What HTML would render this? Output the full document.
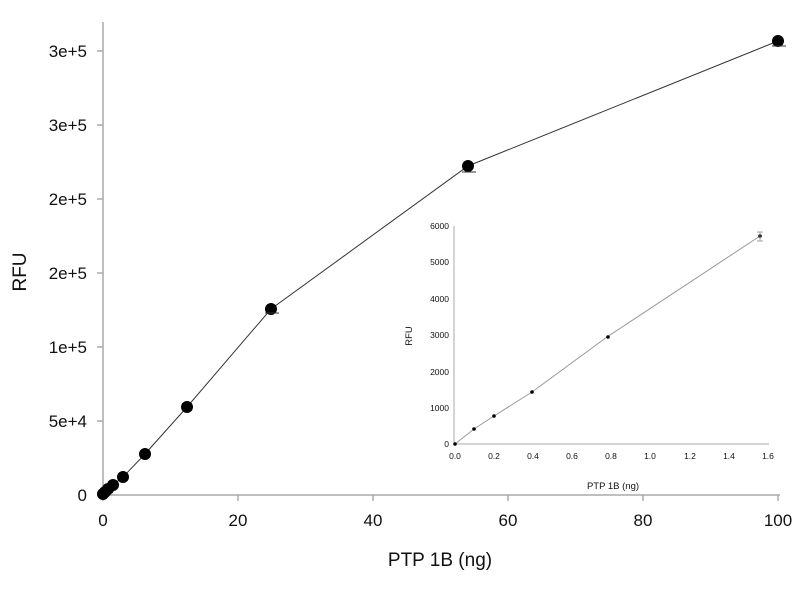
<!DOCTYPE html>
<html><head><style>body{margin:0;background:#fff}svg{display:block}</style></head><body>
<svg width="800" height="600" xmlns="http://www.w3.org/2000/svg" font-family="Liberation Sans, Arial, sans-serif">
<rect width="800" height="600" fill="#fff"/>
<g stroke="#aaa" stroke-width="1.5" fill="none">
<line x1="103" y1="22" x2="103" y2="495"/>
<line x1="103" y1="495" x2="780" y2="495"/>
<line x1="97" y1="51" x2="103" y2="51"/><line x1="97" y1="125" x2="103" y2="125"/>
<line x1="97" y1="199" x2="103" y2="199"/><line x1="97" y1="273" x2="103" y2="273"/>
<line x1="97" y1="347" x2="103" y2="347"/><line x1="97" y1="421" x2="103" y2="421"/>
<line x1="97" y1="495" x2="103" y2="495"/>
<line x1="103" y1="495" x2="103" y2="501"/><line x1="238" y1="495" x2="238" y2="501"/>
<line x1="373" y1="495" x2="373" y2="501"/><line x1="508" y1="495" x2="508" y2="501"/>
<line x1="643" y1="495" x2="643" y2="501"/><line x1="778" y1="495" x2="778" y2="501"/>
</g>
<g font-size="17" fill="#111" text-anchor="end">
<text x="87" y="57">3e+5</text><text x="87" y="131">3e+5</text><text x="87" y="205">2e+5</text>
<text x="87" y="279">2e+5</text><text x="87" y="353">1e+5</text><text x="87" y="427">5e+4</text><text x="87" y="501">0</text>
</g>
<g font-size="17" fill="#111" text-anchor="middle">
<text x="103" y="526">0</text><text x="238" y="526">20</text><text x="373" y="526">40</text>
<text x="508" y="526">60</text><text x="643" y="526">80</text><text x="778" y="526">100</text>
</g>
<text x="440" y="566" font-size="19" text-anchor="middle" fill="#111">PTP 1B (ng)</text>
<text transform="translate(26,272) rotate(-90)" font-size="19" text-anchor="middle" fill="#111">RFU</text>
<polyline fill="none" stroke="#333" stroke-width="1" points="103,494 104,493 106,491 108,489 113,485 123,477 145,454 187,407 271,309 468,166 778,41"/>
<g fill="#000">
<circle cx="103" cy="494" r="6"/><circle cx="105" cy="492" r="6"/><circle cx="108" cy="489" r="6"/>
<circle cx="113" cy="485" r="6"/><circle cx="123" cy="477" r="6"/><circle cx="145" cy="454" r="6"/>
<circle cx="187" cy="407" r="6"/><circle cx="271" cy="309" r="6"/><circle cx="468" cy="166" r="6"/>
<circle cx="778" cy="41" r="6"/>
</g>
<g stroke="#333" stroke-width="1"><line x1="462" y1="172" x2="476" y2="172"/><line x1="772" y1="46" x2="786" y2="46"/><line x1="265" y1="313" x2="279" y2="313"/></g>
<g stroke="#aaa" stroke-width="1" fill="none">
<line x1="454" y1="226" x2="454" y2="444"/>
<line x1="454" y1="444" x2="769" y2="444"/>
</g>
<g font-size="8.5" fill="#111" text-anchor="end">
<text x="449" y="229">6000</text><text x="449" y="265">5000</text><text x="449" y="302">4000</text>
<text x="449" y="338">3000</text><text x="449" y="375">2000</text><text x="449" y="411">1000</text><text x="449" y="447">0</text>
</g>
<g font-size="8.5" fill="#111" text-anchor="middle">
<text x="455" y="459">0.0</text><text x="494" y="459">0.2</text><text x="533" y="459">0.4</text>
<text x="572" y="459">0.6</text><text x="611" y="459">0.8</text><text x="650" y="459">1.0</text>
<text x="690" y="459">1.2</text><text x="729" y="459">1.4</text><text x="768" y="459">1.6</text>
</g>
<text x="613" y="489" font-size="9.5" text-anchor="middle" fill="#111">PTP 1B (ng)</text>
<text transform="translate(412,336) rotate(-90)" font-size="9.5" text-anchor="middle" fill="#111">RFU</text>
<polyline fill="none" stroke="#999" stroke-width="1" points="455,444 474,429 494,416 532,392 607,337 760,236"/>
<g fill="#000">
<circle cx="455" cy="444" r="1.8"/><circle cx="474" cy="429" r="1.8"/><circle cx="494" cy="416" r="1.8"/>
<circle cx="532" cy="392" r="1.8"/><circle cx="608" cy="337" r="1.8"/><circle cx="760" cy="236" r="1.8"/>
</g>
<g stroke="#888" stroke-width="0.8"><line x1="760" y1="232" x2="760" y2="241"/><line x1="757" y1="232" x2="763" y2="232"/><line x1="757" y1="241" x2="763" y2="241"/></g>
</svg>
</body></html>
